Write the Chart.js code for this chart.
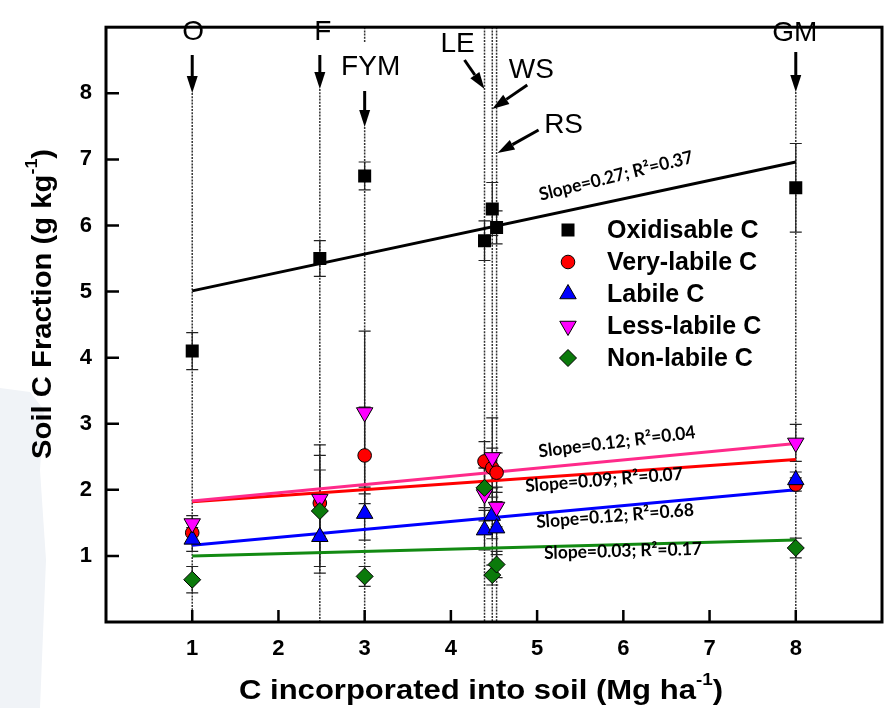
<!DOCTYPE html>
<html>
<head>
<meta charset="utf-8">
<script src="https://cdn.jsdelivr.net/npm/chart.js@4.4.1/dist/chart.umd.min.js"></script>
<style>
  html, body { margin: 0; padding: 0; background: #fff; }
  #chart { display: block; }
</style>
</head>
<body>
<canvas id="chart" width="896" height="708"></canvas>
<script>
// ---- data ----
const treatments    = ['O', 'F', 'FYM', 'LE', 'WS', 'RS', 'GM'];
const cIncorporated = [1, 2.48, 3, 4.39, 4.48, 4.53, 8];

const oxidisable    = [4.10, 5.50, 6.75, 5.77, 6.25, 5.97, 6.57];
const oxidisableErr = [0.28, 0.27, 0.21, 0.30, 0.40, 0.25, 0.67];
const veryLabile    = [1.35, 1.80, 2.52, 2.43, 2.33, 2.26, 2.08];
const veryLabileErr = [0.15, 0.50, 0.73, 0.30, 0.30, 0.30, 0.10];
const labile        = [1.25, 1.29, 1.64, 1.39, 1.61, 1.42, 2.15];
const labileErr     = [0.18, 0.55, 0.40, 0.30, 0.35, 0.40, 0.12];
const lessLabile    = [1.49, 1.86, 3.17, 1.93, 2.49, 1.74, 2.71];
const lessLabileErr = [0.12, 0.82, 1.23, 0.40, 0.60, 0.30, 0.28];
const nonLabile     = [0.64, 1.68, 0.69, 2.03, 0.71, 0.87, 1.12];
const nonLabileErr  = [0.20, 0.84, 0.15, 0.30, 0.15, 0.20, 0.15];

// regression lines, values at x = 1 and x = 8
const fitX          = [1, 8];
const oxidisableFit = [5.01, 6.96];
const lessLabileFit = [1.83, 2.70];
const veryLabileFit = [1.82, 2.46];
const labileFit     = [1.16, 2.00];
const nonLabileFit  = [1.00, 1.24];
const fitLabels = [
    'Slope=0.27; R\u00B2=0.37',
    'Slope=0.12; R\u00B2=0.04',
    'Slope=0.09; R\u00B2=0.07',
    'Slope=0.12; R\u00B2=0.68',
    'Slope=0.03; R\u00B2=0.17',
];

const seriesNames = ['Oxidisable C', 'Very-labile C', 'Labile C', 'Less-labile C', 'Non-labile C'];
const axisTicks   = [1, 2, 3, 4, 5, 6, 7, 8];

// ---- helpers ----
const FONT = "'Liberation Sans', Arial, sans-serif";

function points(xs, ys) {
    return xs.map((x, i) => ({ x: x, y: ys[i] }));
}

function scatter(label, values, errors, style, order) {
    return Object.assign({
        type: 'scatter',
        label: label,
        data: points(cIncorporated, values),
        errors: errors,
        borderColor: '#000',
        borderWidth: 1,
        order: order,
    }, style);
}

function fitLine(values, color) {
    return {
        type: 'line',
        data: points(fitX, values),
        borderColor: color,
        borderWidth: 3,
        pointRadius: 0,
        fill: false,
        order: 10,
        isFit: true,
    };
}

// text with a raised "-1", squeezed/stretched to a given width
function drawSupText(ctx, before, sup, after, cx, cy, size, width) {
    const big = 'bold ' + size + 'px ' + FONT;
    const small = 'bold ' + Math.round(size * 0.6) + 'px ' + FONT;
    ctx.font = big;
    const w1 = ctx.measureText(before).width;
    const w3 = ctx.measureText(after).width;
    ctx.font = small;
    const w2 = ctx.measureText(sup).width;
    const total = w1 + w2 + w3;
    ctx.save();
    ctx.translate(cx, cy);
    ctx.scale(width / total, 1);
    let x = -total / 2;
    ctx.textAlign = 'left';
    ctx.textBaseline = 'middle';
    ctx.font = big;
    ctx.fillText(before, x, 0);
    x += w1;
    ctx.font = small;
    ctx.fillText(sup, x, -size * 0.38);
    x += w2;
    ctx.font = big;
    ctx.fillText(after, x, 0);
    ctx.restore();
}

function arrow(ctx, x1, y1, x2, y2) {
    const ang = Math.atan2(y2 - y1, x2 - x1);
    const hl = 17, hw = 5.5;
    const bx = x2 - Math.cos(ang) * hl, by = y2 - Math.sin(ang) * hl;
    ctx.beginPath();
    ctx.moveTo(x1, y1);
    ctx.lineTo(bx, by);
    ctx.stroke();
    ctx.beginPath();
    ctx.moveTo(x2, y2);
    ctx.lineTo(bx - Math.sin(ang) * hw, by + Math.cos(ang) * hw);
    ctx.lineTo(bx + Math.sin(ang) * hw, by - Math.cos(ang) * hw);
    ctx.closePath();
    ctx.fill();
}

// label / arrow placement per treatment (pixel offsets from the treatment line)
const markLayout = {
    O:   { label: [1, 32],    arrow: [0, 55, 0, 93],     lineTop: 93 },
    F:   { label: [3, 32],    arrow: [0, 55, 0, 89],     lineTop: 89 },
    FYM: { label: [6, 67],    arrow: [0, 91, 0, 127],    lineTop: 127, topSeg: 42 },
    LE:  { label: [-27, 44],  arrow: [-20, 60, 0, 89],   lineTop: 5 },
    WS:  { label: [39, 70],   arrow: [35, 85, 0, 109],   lineTop: 5 },
    RS:  { label: [67, 125],  arrow: [42, 130, 1, 153],  lineTop: 5 },
    GM:  { label: [-1, 33],   arrow: [0, 52, 0, 92],     lineTop: 92 },
};

// fit label placement: centre pixel + rotation (deg)
const fitLabelLayout = [
    [616, 176, -14],
    [617, 442, -7],
    [604, 480, -4.5],
    [615, 516, -4.5],
    [623, 551, -1.5],
];

const overlay = {
    id: 'overlay',
    beforeDatasetsDraw(chart) {
        const { ctx, chartArea, scales: { x, y } } = chart;
        ctx.save();

        // faint smudge at the left edge of the scan
        ctx.fillStyle = '#f0f3f7';
        ctx.beginPath();
        ctx.moveTo(0, 388);
        ctx.lineTo(30, 392);
        ctx.lineTo(44, 410);
        ctx.lineTo(40, 470);
        ctx.lineTo(46, 560);
        ctx.lineTo(40, 708);
        ctx.lineTo(0, 708);
        ctx.closePath();
        ctx.fill();

        // dotted treatment lines
        ctx.strokeStyle = '#333';
        ctx.lineWidth = 1.5;
        ctx.setLineDash([2, 1.2]);
        treatments.forEach((t, i) => {
            const px = x.getPixelForValue(cIncorporated[i]);
            const m = markLayout[t];
            ctx.beginPath();
            ctx.moveTo(px, Math.max(m.lineTop, chartArea.top));
            ctx.lineTo(px, chartArea.bottom);
            if (m.topSeg) {
                ctx.moveTo(px, chartArea.top);
                ctx.lineTo(px, m.topSeg);
            }
            ctx.stroke();
        });
        ctx.setLineDash([]);

        // error bars
        ctx.strokeStyle = '#222';
        ctx.lineWidth = 1.2;
        chart.data.datasets.forEach(ds => {
            if (!ds.errors) return;
            ds.data.forEach((p, j) => {
                const e = ds.errors[j];
                const px = x.getPixelForValue(p.x);
                const y1 = y.getPixelForValue(p.y + e);
                const y2 = y.getPixelForValue(p.y - e);
                ctx.beginPath();
                ctx.moveTo(px, y1); ctx.lineTo(px, y2);
                ctx.moveTo(px - 6, y1); ctx.lineTo(px + 6, y1);
                ctx.moveTo(px - 6, y2); ctx.lineTo(px + 6, y2);
                ctx.stroke();
            });
        });
        ctx.restore();
    },
    afterDraw(chart) {
        const { ctx, chartArea, scales: { x, y } } = chart;
        ctx.save();

        // frame
        ctx.strokeStyle = '#000';
        ctx.lineWidth = 3;
        ctx.strokeRect(chartArea.left, chartArea.top,
            chartArea.right - chartArea.left, chartArea.bottom - chartArea.top);

        // inward tick marks
        ctx.lineWidth = 2.5;
        ctx.beginPath();
        axisTicks.forEach(v => {
            const px = x.getPixelForValue(v);
            ctx.moveTo(px, chartArea.bottom);
            ctx.lineTo(px, chartArea.bottom - 12);
            const py = y.getPixelForValue(v);
            ctx.moveTo(chartArea.left, py);
            ctx.lineTo(chartArea.left + 13, py);
        });
        ctx.stroke();

        // treatment labels + arrows
        ctx.fillStyle = '#000';
        ctx.strokeStyle = '#000';
        ctx.lineWidth = 3;
        treatments.forEach((t, i) => {
            const px = x.getPixelForValue(cIncorporated[i]);
            const m = markLayout[t];
            ctx.font = '28px ' + FONT;
            ctx.textAlign = 'center';
            ctx.textBaseline = 'middle';
            ctx.fillText(t, px + m.label[0], m.label[1]);
            const a = m.arrow;
            arrow(ctx, px + a[0], a[1], px + a[2], a[3]);
        });

        // slope annotations
        ctx.font = 'bold 18px Lato, ' + FONT;
        fitLabels.forEach((txt, i) => {
            const l = fitLabelLayout[i];
            ctx.save();
            ctx.translate(l[0], l[1]);
            ctx.rotate(l[2] * Math.PI / 180);
            ctx.textAlign = 'center';
            ctx.textBaseline = 'middle';
            const w = ctx.measureText(txt).width;
            ctx.scale(158 / w, 1);
            ctx.fillText(txt, 0, 0);
            ctx.restore();
        });

        // legend
        const series = chart.data.datasets.filter(d => !d.isFit)
            .sort((a, b) => seriesNames.indexOf(a.label) - seriesNames.indexOf(b.label));
        series.forEach((ds, i) => {
            const ly = 230 + i * 32;
            ctx.fillStyle = ds.backgroundColor;
            ctx.strokeStyle = '#000';
            ctx.lineWidth = 1;
            Chart.helpers.drawPoint(ctx, {
                pointStyle: ds.pointStyle,
                radius: ds.pointRadius,
                rotation: ds.rotation || 0,
                borderWidth: ds.borderWidth,
            }, 568, ly);
            ctx.fillStyle = '#000';
            ctx.font = 'bold 25px ' + FONT;
            ctx.textAlign = 'left';
            ctx.textBaseline = 'middle';
            ctx.fillText(ds.label, 607, ly + 1);
        });

        // axis titles
        ctx.fillStyle = '#000';
        drawSupText(ctx, 'C incorporated into soil (Mg ha', '-1', ')', 481, 691, 28, 484);
        ctx.translate(43, 304);
        ctx.rotate(-Math.PI / 2);
        drawSupText(ctx, 'Soil C Fraction (g kg', '-1', ')', 0, 0, 28, 310);
        ctx.restore();
    },
};

new Chart(document.getElementById('chart'), {
    data: {
        datasets: [
            scatter(seriesNames[0], oxidisable, oxidisableErr,
                { pointStyle: 'rect', pointRadius: 9.2, backgroundColor: '#000', borderWidth: 0 }, 5),
            scatter(seriesNames[1], veryLabile, veryLabileErr,
                { pointStyle: 'circle', pointRadius: 6.8, backgroundColor: '#ff0000' }, 4),
            scatter(seriesNames[2], labile, labileErr,
                { pointStyle: 'triangle', pointRadius: 9.5, backgroundColor: '#0000ff' }, 3),
            scatter(seriesNames[3], lessLabile, lessLabileErr,
                { pointStyle: 'triangle', rotation: 180, pointRadius: 9.5, backgroundColor: '#ff00ff' }, 2),
            scatter(seriesNames[4], nonLabile, nonLabileErr,
                { pointStyle: 'rectRot', pointRadius: 8.5, backgroundColor: '#0b7a0b' }, 1),
            fitLine(oxidisableFit, '#000000'),
            fitLine(lessLabileFit, '#ff2a8a'),
            fitLine(veryLabileFit, '#ff0000'),
            fitLine(labileFit, '#0000ff'),
            fitLine(nonLabileFit, '#128a12'),
        ],
    },
    options: {
        responsive: false,
        animation: false,
        devicePixelRatio: 1,
        layout: { padding: { top: 5, right: 9, left: 0, bottom: 0 } },
        plugins: {
            legend: { display: false },
            tooltip: { enabled: false },
        },
        scales: {
            x: {
                type: 'linear',
                min: 0,
                max: 9,
                afterFit: s => { s.height = 86; },
                grid: { display: false, drawTicks: false },
                border: { display: false },
                ticks: {
                    stepSize: 1,
                    padding: 14,
                    color: '#000',
                    font: { family: FONT, size: 22, weight: 'bold' },
                    callback: v => axisTicks.includes(v) ? String(v) : '',
                },
            },
            y: {
                type: 'linear',
                min: 0,
                max: 9,
                afterFit: s => { s.width = 106; },
                grid: { display: false, drawTicks: false },
                border: { display: false },
                ticks: {
                    stepSize: 1,
                    padding: 14,
                    color: '#000',
                    font: { family: FONT, size: 22, weight: 'bold' },
                    callback: v => axisTicks.includes(v) ? String(v) : '',
                },
            },
        },
    },
    plugins: [overlay],
});
</script>
</body>
</html>
